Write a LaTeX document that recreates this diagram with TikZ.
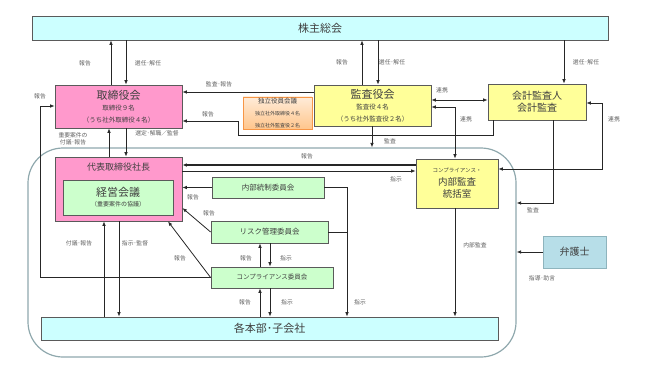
\documentclass[tikz,border=0pt]{standalone}
\usepackage{fontspec}
\setmainfont{Noto Sans CJK JP}
\usetikzlibrary{arrows.meta}
\definecolor{cyanbox}{HTML}{CCFFFF}
\definecolor{pinkbox}{HTML}{FF99CC}
\definecolor{greenbox}{HTML}{CCFFCC}
\definecolor{yellowbox}{HTML}{FFFF99}
\definecolor{lawyerbox}{HTML}{B7DEE8}
\definecolor{lawyerline}{HTML}{8EB4BD}
\definecolor{contline}{HTML}{8FA8AD}
\definecolor{boxline}{HTML}{5A5A5A}
\definecolor{txt}{HTML}{404040}
\definecolor{lbl}{HTML}{606060}
\definecolor{orangeline}{HTML}{F79646}
\tikzset{
  boxst/.style={draw=boxline, line width=0.8pt, inner sep=0pt, align=center, text=txt},
  lab/.style={font=\fontsize{5.8}{7}\selectfont, text=lbl, inner sep=0pt, align=center},
  arr/.style={draw=black!85, line width=0.8pt, -{Latex[length=4.5pt,width=3.6pt]}},
  arrs/.style={draw=black!85, line width=0.8pt, {Latex[length=4.5pt,width=3.6pt]}-{Latex[length=4.5pt,width=3.6pt]}},
  ln/.style={draw=black!85, line width=0.8pt},
}
\begin{document}
\begin{tikzpicture}[x=1pt,y=-1pt]
\useasboundingbox (0,0) rectangle (647,385);
% container
\node[draw=contline, line width=1.2pt, rounded corners=35pt, minimum width=488pt, minimum height=209pt, inner sep=0pt] (cont) at (272,252.5) {};
% boxes
\node[boxst, fill=cyanbox, minimum width=576pt, minimum height=24pt] (sh) at (320,28) {\fontsize{11}{13}\selectfont 株主総会};
\node[boxst, fill=pinkbox, minimum width=127pt, minimum height=43pt] (board) at (118.5,106.5) {{\fontsize{11}{13}\selectfont 取締役会}\\[-1pt]{\fontsize{6.5}{9}\selectfont 取締役９名}\\[0pt]{\fontsize{6.5}{9}\selectfont （うち社外取締役４名）}};
\node[draw=orangeline, line width=0.8pt, top color=orange!15, bottom color=orange!45, inner sep=0pt, align=center, text=txt, minimum width=69pt, minimum height=32pt] (indep) at (277.5,113) {{\fontsize{6.5}{9}\selectfont 独立役員会議}\\[0pt]{\fontsize{5}{8}\selectfont 独立社外取締役４名}\\[0pt]{\fontsize{5}{8}\selectfont 独立社外監査役２名}};
\node[boxst, fill=yellowbox, minimum width=117pt, minimum height=41pt] (audit) at (372.5,105.5) {{\fontsize{11}{13}\selectfont 監査役会}\\[-1pt]{\fontsize{6.5}{9}\selectfont 監査役４名}\\[0pt]{\fontsize{6.5}{9}\selectfont （うち社外監査役２名）}};
\node[boxst, fill=yellowbox, minimum width=98pt, minimum height=36pt] (acct) at (537,102) {{\fontsize{10}{12}\selectfont 会計監査人}\\[0pt]{\fontsize{10}{12}\selectfont 会計監査}};
\node[boxst, fill=pinkbox, minimum width=127pt, minimum height=64pt] (pres) at (118.5,189) {};
\node[text=txt, inner sep=0pt] (prest) at (118.5,167.5) {\fontsize{9}{11}\selectfont 代表取締役社長};
\node[boxst, fill=greenbox, minimum width=110pt, minimum height=35pt] (mtg) at (118,197.5) {{\fontsize{11}{13}\selectfont 経営会議}\\[-2pt]{\fontsize{6}{8}\selectfont （重要案件の協議）}};
\node[boxst, fill=greenbox, minimum width=112pt, minimum height=21pt] (icc) at (268,187.5) {\fontsize{7.5}{9}\selectfont 内部統制委員会};
\node[boxst, fill=greenbox, minimum width=117pt, minimum height=22pt] (risk) at (269.5,232) {\fontsize{7.5}{9}\selectfont リスク管理委員会};
\node[boxst, fill=greenbox, minimum width=122pt, minimum height=21pt] (comp) at (272,277.5) {\fontsize{6.5}{8}\selectfont コンプライアンス委員会};
\node[boxst, fill=yellowbox, minimum width=82pt, minimum height=49pt] (office) at (457,183.5) {{\fontsize{5.5}{7}\selectfont コンプライアンス・}\\[1pt]{\fontsize{9.5}{11.5}\selectfont 内部監査}\\[0pt]{\fontsize{9.5}{11.5}\selectfont 統括室}};
\node[draw=lawyerline, line width=1pt, fill=lawyerbox, inner sep=0pt, text=txt, minimum width=63pt, minimum height=32pt] (lawyer) at (574.5,252) {\fontsize{10}{12}\selectfont 弁護士};
\node[boxst, fill=cyanbox, minimum width=457pt, minimum height=23pt] (bar) at (269.5,328.5) {\fontsize{11}{13}\selectfont 各本部･子会社};
% connectors: shareholders
\draw[arr] (111,0 |- board.north) -- (111,0 |- sh.south);
\draw[arr] (126,0 |- sh.south) -- (126,0 |- board.north);
\draw[arr] (362,0 |- audit.north) -- (362,0 |- sh.south);
\draw[arr] (378,0 |- sh.south) -- (378,0 |- audit.north);
\draw[arr] (564,0 |- sh.south) -- (564,0 |- acct.north);
% audit -> board
\draw[arr] (0,92 -| audit.west) -- (0,92 -| board.east);
\draw[arr] (493,0 |- acct.south) -- (493,135) -- (238,135) -- (238,121) -- (0,121 -| board.east);
\draw[arrs] (0,100 -| audit.east) -- (0,100 -| acct.west);
\draw[arrs] (0,107 -| audit.east) -- (455,107) -- (455,0 |- office.north);
\draw[arrs] (0,103 -| acct.east) -- (602,103) -- (602,169) -- (0,169 -| office.east);
\draw[arr] (553,0 |- acct.south) -- (553,203) -- (0,203 -| cont.east);
\draw[arr] (372,0 |- audit.south) -- (372,0 |- cont.north);
% board <-> president
\draw[arr] (109,0 |- pres.north) -- (109,0 |- board.south);
\draw[arr] (126,0 |- board.south) -- (126,0 |- pres.north);
% office <-> president
\draw[arr, line width=1.5pt] (0,165 -| office.west) -- (0,165 -| pres.east);
\draw[arr] (0,171 -| pres.east) -- (0,171 -| office.west);
% committees -> president
\draw[arr] (icc.west) -- (icc.west -| pres.east);
\draw[arr] (risk.west) -- (0,208 -| pres.east);
\draw[arr] (comp.west) -- (168,0 |- pres.south);
\draw[arr] (comp.west) -- (40,277.5) -- (40,106) -- (0,106 -| board.west);
% risk <-> compliance
\draw[arr] (260,0 |- comp.north) -- (260,0 |- risk.south);
\draw[arr] (270,0 |- risk.south) -- (270,0 |- comp.north);
\draw[arr] (260,0 |- bar.north) -- (260,0 |- comp.south);
\draw[arr] (270,0 |- comp.south) -- (270,0 |- bar.north);
% president <-> bar
\draw[arr] (104,0 |- bar.north) -- (104,0 |- pres.south);
\draw[arr] (119,0 |- pres.south) -- (119,0 |- bar.north);
% icc/risk -> bar
\draw[arr] (icc.east) -- (347,187.5) -- (347,0 |- bar.north);
\draw[ln] (risk.east) -- (347,232);
\draw[arr] (455,0 |- office.south) -- (455,0 |- bar.north);
\draw[arr] (lawyer.west) -- (lawyer.west -| cont.east);
% labels
\node[lab] (l1) at (85,63) {報告};
\node[lab] (l2) at (148,63) {選任･解任};
\node[lab] (l3) at (342,62) {報告};
\node[lab] (l4) at (392,62) {選任･解任};
\node[lab] (l5) at (586,62) {選任･解任};
\node[lab] (l6) at (219,84) {監査･報告};
\node[lab] (l7) at (208,114) {報告};
\node[lab] (l8) at (40,96) {報告};
\node[lab] (l9) at (442,90) {連携};
\node[lab] (l10) at (466,119) {連携};
\node[lab] (l11) at (614,119) {連携};
\node[lab] (l12) at (73,138.5) {重要案件の\\付議･報告};
\node[lab] (l13) at (157,133) {選定･解職／監督};
\node[lab] (l14) at (390,141) {監査};
\node[lab] (l15) at (307,156) {報告};
\node[lab] (l16) at (396,179) {指示};
\node[lab] (l17) at (193,197) {報告};
\node[lab] (l18) at (209,213) {報告};
\node[lab] (l19) at (180,258) {報告};
\node[lab] (l20) at (246,258) {報告};
\node[lab] (l21) at (286,258) {指示};
\node[lab] (l22) at (79,243) {付議･報告};
\node[lab] (l23) at (135,243) {指示･監督};
\node[lab] (l24) at (245,302) {報告};
\node[lab] (l25) at (287,302) {指示};
\node[lab] (l26) at (360,302) {指示};
\node[lab] (l27) at (475,245) {内部監査};
\node[lab] (l28) at (533,210) {監査};
\node[lab] (l29) at (542,278) {指導･助言};
\end{tikzpicture}
\end{document}
